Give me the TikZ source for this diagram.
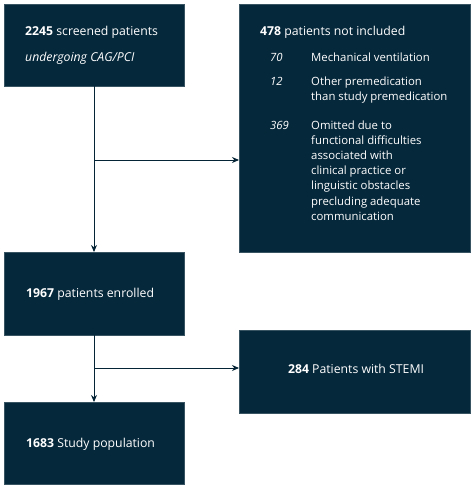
\documentclass[tikz,border=0pt]{standalone}
\usepackage{fontspec}
\setmainfont{Open Sans}
\usetikzlibrary{arrows.meta}
\definecolor{navy}{HTML}{06283B}
\begin{document}
\begin{tikzpicture}[x=1bp,y=-1bp,
  box/.style={fill=navy,draw=navy!80!white,line width=0.6bp,inner sep=0pt},
  txt/.style={text=white,font=\fontsize{12.3}{15}\selectfont,inner sep=0pt,anchor=base west},
  sub/.style={txt,font=\fontsize{11.4}{15}\selectfont},
  conn/.style={draw=navy!90!black,line width=0.9bp,-{Stealth[length=7bp,width=6bp]}}]
\useasboundingbox (0,0) rectangle (474,489);
% boxes
\path[box] (4,4) rectangle (184,86);
\coordinate (b1s) at (94,86);
\path[box] (239,4) rectangle (470,252);
\coordinate (b2w) at (239,160);
\path[box] (4,252) rectangle (184,335);
\coordinate (b3n) at (94,252);
\coordinate (b3s) at (94,335);
\path[box] (239,330) rectangle (470,413);
\coordinate (b4w) at (239,368);
\path[box] (4,402) rectangle (184,484);
\coordinate (b5n) at (94,402);
% texts
\node[txt] (t1) at (25,36) {\textbf{2245} screened patients};
\node[txt] (t1b) at (25,62) {\itshape undergoing CAG/PCI};
\node[txt] (t2) at (260,36) {\textbf{478} patients not included};
\node[sub] (n70) at (270,62) {\itshape 70};
\node[sub] (d70) at (311,62) {Mechanical ventilation};
\node[sub] (n12) at (270,85.5) {\itshape 12};
\node[sub] (d12a) at (311,85.5) {Other premedication};
\node[sub] (d12b) at (311,100.5) {than study premedication};
\node[sub] (n369) at (270,130) {\itshape 369};
\node[sub] (l1) at (311,130) {Omitted due to};
\node[sub] (l2) at (311,145) {functional difficulties};
\node[sub] (l3) at (311,160) {associated with};
\node[sub] (l4) at (311,175) {clinical practice or};
\node[sub] (l5) at (311,190) {linguistic obstacles};
\node[sub] (l6) at (311,205) {precluding adequate};
\node[sub] (l7) at (311,220) {communication};
\node[txt] (t3) at (26,297) {\textbf{1967} patients enrolled};
\node[txt,anchor=base] (t4) at (356,373) {\textbf{284} Patients with STEMI};
\node[txt] (t5) at (26,447) {\textbf{1683} Study population};
% connectors
\coordinate (j1) at (94,160);
\coordinate (j2) at (94,368);
\draw[conn] (b1s) -- (b3n);
\draw[conn] (j1) -- (b2w);
\draw[conn] (b3s) -- (b5n);
\draw[conn] (j2) -- (b4w);
\end{tikzpicture}
\end{document}
